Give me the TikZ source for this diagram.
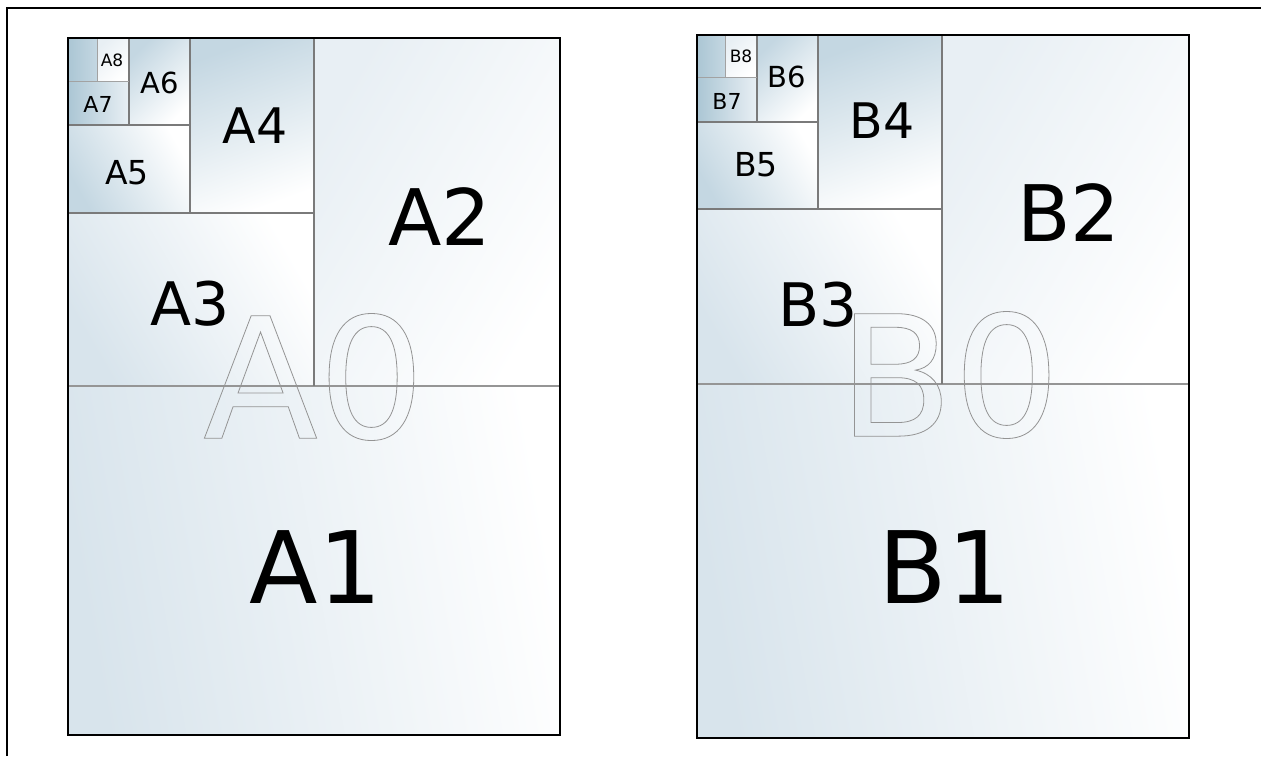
\documentclass[tikz,border=0pt]{standalone}
\usepackage{fontspec}
\setmainfont{DejaVu Sans}
\newcommand\fsz[1]{\fontsize{#1}{#1}\selectfont}
\newcommand\outl[1]{\special{pdf:literal direct 1 Tr 0.8 w 0.58 0.58 0.58 RG}#1\special{pdf:literal direct 0 Tr 1 w 0 0 0 RG}}
\definecolor{bdark}{HTML}{ABC6D4}
\definecolor{bmid}{HTML}{C4D7E2}
\definecolor{blight}{HTML}{D8E4EC}
\definecolor{bpale}{HTML}{E8EFF4}
\definecolor{divc}{HTML}{7A7A7A}
\begin{document}
\begin{tikzpicture}[x=1pt,y=-1pt,
  page/.style={draw=black,line width=2pt},
  div/.style={draw=divc,line width=1.1pt},
  maindiv/.style={draw=divc!80,line width=2pt},
  faint/.style={draw=divc!70,line width=0.9pt},
  lbl/.style={inner sep=0pt,text=black},
  ghost/.style={inner sep=0pt,font=\fsz{168}}]
\useasboundingbox (0,0) rectangle (1261,756);
\fill[white] (0,0) rectangle (1261,756);
% outer frame (extends past the picture)
\draw[line width=2.2pt] (7,756) -- (7,8) -- (1261,8);

% ---------- A series ----------
\shade[left color=blight,right color=white,shading angle=100] (68,386) rectangle (560,735);
\shade[left color=bpale,right color=white,shading angle=60] (314,38) rectangle (560,386);
\shade[left color=blight,right color=white,shading angle=120] (68,213) rectangle (314,386);
\shade[left color=bmid,right color=white,shading angle=20] (190,38) rectangle (314,213);
\shade[left color=bmid,right color=white,shading angle=120] (68,125) rectangle (190,213);
\shade[left color=bmid,right color=white,shading angle=45] (129,38) rectangle (190,125);
\shade[left color=bdark,right color=bpale,shading angle=90] (68,81) rectangle (129,125);
\shade[left color=bdark,right color=bmid] (68,38) rectangle (97,81);
\shade[left color=bpale,right color=white,shading angle=45] (97,38) rectangle (129,81);
\draw[maindiv] (68,386) -- (560,386);
\draw[div] (314,38) -- (314,386);
\draw[div] (68,213) -- (314,213);
\draw[div] (190,38) -- (190,213);
\draw[div] (68,125) -- (190,125);
\draw[div] (129,38) -- (129,125);
\draw[faint] (68,81) -- (129,81);
\draw[faint] (97,38) -- (97,81);
\draw[page] (68,38) rectangle (560,735);

\node[lbl,font=\fsz{100}] (A1) at (316,567) {A1};
\node[lbl,font=\fsz{78}] (A2) at (440,217) {A2};
\node[lbl,font=\fsz{60}] (A3) at (190,304) {A3};
\node[lbl,font=\fsz{49}] (A4) at (255,126) {A4};
\node[lbl,font=\fsz{33}] (A5) at (127,173) {A5};
\node[lbl,font=\fsz{29}] (A6) at (160,83) {A6};
\node[lbl,font=\fsz{22}] (A7) at (98,104) {A7};
\node[lbl,font=\fsz{17}] (A8) at (112,60) {A8};

% ---------- B series ----------
\shade[left color=blight,right color=white,shading angle=100] (697,384) rectangle (1189,738);
\shade[left color=bpale,right color=white,shading angle=60] (942,35) rectangle (1189,384);
\shade[left color=blight,right color=white,shading angle=120] (697,209) rectangle (942,384);
\shade[left color=bmid,right color=white,shading angle=20] (818,35) rectangle (942,209);
\shade[left color=bmid,right color=white,shading angle=120] (697,122) rectangle (818,209);
\shade[left color=bmid,right color=white,shading angle=45] (757,35) rectangle (818,122);
\shade[left color=bdark,right color=bpale,shading angle=90] (697,77) rectangle (757,122);
\shade[left color=bdark,right color=bmid] (697,35) rectangle (725,77);
\shade[left color=bpale,right color=white,shading angle=45] (725,35) rectangle (757,77);
\draw[maindiv] (697,384) -- (1189,384);
\draw[div] (942,35) -- (942,384);
\draw[div] (697,209) -- (942,209);
\draw[div] (818,35) -- (818,209);
\draw[div] (697,122) -- (818,122);
\draw[div] (757,35) -- (757,122);
\draw[faint] (697,77) -- (757,77);
\draw[faint] (725,35) -- (725,77);
\draw[page] (697,35) rectangle (1189,738);

\node[lbl,font=\fsz{100}] (B1) at (945,567) {B1};
\node[lbl,font=\fsz{78}] (B2) at (1069,213) {B2};
\node[lbl,font=\fsz{60}] (B3) at (818,305) {B3};
\node[lbl,font=\fsz{49}] (B4) at (882,121) {B4};
\node[lbl,font=\fsz{33}] (B5) at (756,165) {B5};
\node[lbl,font=\fsz{29}] (B6) at (787,77) {B6};
\node[lbl,font=\fsz{22}] (B7) at (727,101) {B7};
\node[lbl,font=\fsz{17}] (B8) at (741,56) {B8};

% ---------- outlined A0 / B0 ----------
\node[ghost] (A0) at (314,377) {\outl{A0}};
\node[ghost] (B0) at (949,375) {\outl{B0}};
\end{tikzpicture}
\end{document}
